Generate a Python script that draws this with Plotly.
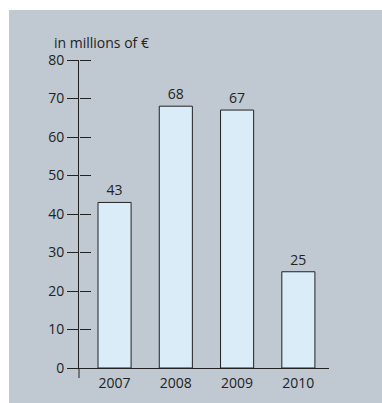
import plotly.graph_objects as go

# Annual figures, in millions of euros
years = ["2007", "2008", "2009", "2010"]
values = [43, 68, 67, 25]
y_ticks = [0, 10, 20, 30, 40, 50, 60, 70, 80]

panel_grey = "#c0c9d2"
bar_fill = "#daecf8"
ink = "#222222"
font = dict(family="Open Sans", size=14, color=ink)

fig = go.Figure()
fig.add_trace(go.Bar(
    x=years,
    y=values,
    width=0.54,
    marker=dict(color=bar_fill, line=dict(color=ink, width=1)),
    text=[str(v) for v in values],
    textposition="outside",
    textfont=font,
    cliponaxis=False,
    hoverinfo="skip",
))

# second y axis only carries the inner halves of the crossing ticks
fig.add_trace(go.Scatter(x=[], y=[], yaxis="y2", showlegend=False))

fig.update_layout(
    width=382,
    height=403,
    margin=dict(l=79, r=53, t=60, b=35),
    paper_bgcolor="white",
    plot_bgcolor="rgba(0,0,0,0)",
    font=font,
    showlegend=False,
    bargap=0.46,
    xaxis=dict(
        type="category",
        range=[-0.58, 3.5],
        showline=True,
        linecolor=ink,
        linewidth=1,
        ticks="",
        showgrid=False,
        zeroline=False,
        tickfont=font,
        ticklabelstandoff=2,
    ),
    yaxis=dict(
        range=[0, 80],
        tickvals=y_ticks,
        showline=True,
        linecolor=ink,
        linewidth=1,
        ticks="outside",
        ticklen=11,
        tickcolor=ink,
        tickwidth=1,
        showgrid=False,
        zeroline=False,
        tickfont=font,
    ),
    yaxis2=dict(
        overlaying="y",
        anchor="free",
        position=0,
        side="right",
        range=[0, 80],
        tickvals=y_ticks,
        ticks="outside",
        ticklen=11,
        tickcolor=ink,
        tickwidth=1,
        showticklabels=False,
        showline=False,
        showgrid=False,
        zeroline=False,
    ),
    shapes=[
        # grey panel behind the chart
        dict(type="rect", xref="paper", yref="paper",
             x0=-0.28, x1=1.212, y0=-0.1136, y1=1.1623,
             fillcolor=panel_grey, line=dict(width=0), layer="below"),
        # value axis continues a little below zero
        dict(type="line", xref="paper", yref="paper",
             x0=0, x1=0, y0=0, y1=-0.0325,
             line=dict(color=ink, width=1)),
    ],
    annotations=[
        dict(text="in millions of €", xref="paper", yref="paper",
             x=-0.108, y=1.0584, xanchor="left", yanchor="middle",
             showarrow=False, font=font),
    ],
)

fig.write_html("out.html")
